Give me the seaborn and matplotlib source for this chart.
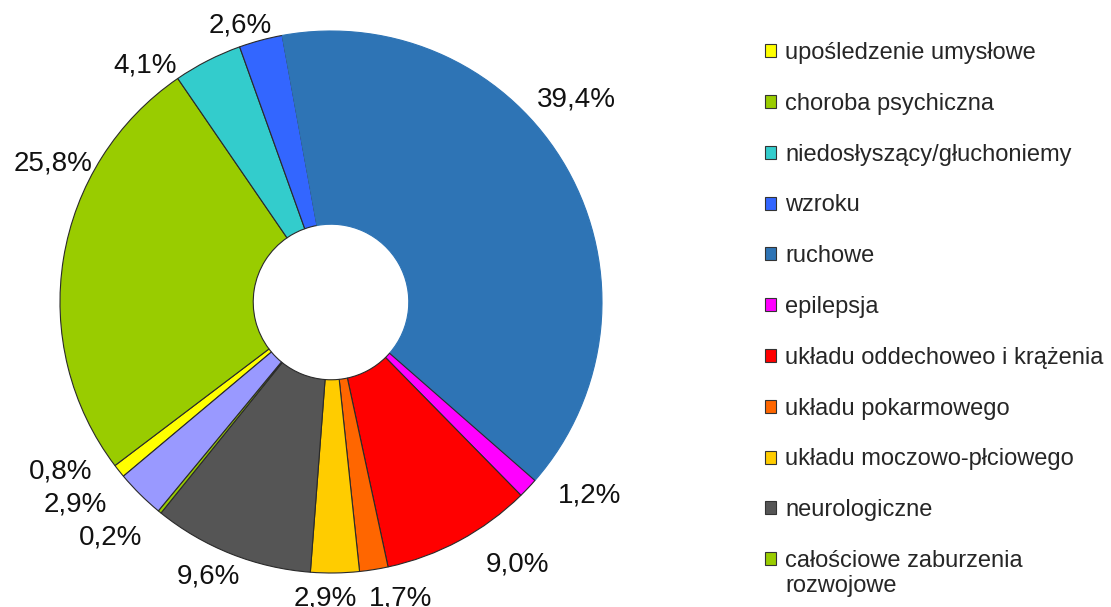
import numpy as np
import matplotlib
matplotlib.use('Agg')
import matplotlib.pyplot as plt
from matplotlib.patches import Patch
import seaborn as sns

# data (clockwise, legend order)
categories = ['upośledzenie umysłowe', 'choroba psychiczna', 'niedosłyszący/głuchoniemy',
              'wzroku', 'ruchowe', 'epilepsja', 'układu oddechoweo i krążenia',
              'układu pokarmowego', 'układu moczowo-płciowego', 'neurologiczne',
              'całościowe zaburzenia\nrozwojowe', 'inne']
shares = [0.8, 25.8, 4.1, 2.6, 39.4, 1.2, 9.0, 1.7, 2.9, 9.6, 0.2, 2.9]
n_legend = 11  # the last category is cut off in the original legend

colors = ['#ffff00', '#99cc00', '#33cccc', '#3366ff', '#2e74b5', '#ff00ff',
          '#ff0000', '#ff6600', '#ffcc00', '#555555', '#99cc00', '#9999ff']
# label placement tweaks as in the original: angular shift (deg) and gap to ring (px)
label_shift = [-7, -17.8, 10.7, 3, 10.3, 7, 7.5, 4.3, -2, -2.7, -4.3, -7.2]
label_gap = [14, 1, 4, 3, 12, 18, 21, 13, 11, 4, 20, 22]

sns.set_style('white')
plt.rcParams['font.family'] = ['Liberation Sans', 'DejaVu Sans']

fig = plt.figure(figsize=(11.11, 6.07), dpi=100)
ax = fig.add_axes([0.02961, 0.01137, 0.53663, 0.98221])

wedges, _ = ax.pie(shares, colors=colors, startangle=220, counterclock=False,
                   wedgeprops=dict(width=0.713, edgecolor='#2a2a2a', linewidth=0.8))
wedges[4].set_edgecolor(colors[4])  # no outline on the big blue slice
ax.set_xlim(-1.1, 1.1)
ax.set_ylim(-1.1, 1.1)
ax.set_aspect('equal')
ax.axis('off')

# percentage labels just outside the ring
texts = []
for v in shares:
    t = ax.text(0, 0, f'{v:.1f}%'.replace('.', ','), fontsize=20, color='#111111',
                ha='center', va='center_baseline')
    texts.append(t)

fig.canvas.draw()
r_px = ax.transData.transform((1, 0))[0] - ax.transData.transform((0, 0))[0]
for w, t, shift, gap in zip(wedges, texts, label_shift, label_gap):
    ang = np.deg2rad((w.theta1 + w.theta2) / 2 + shift)
    bb = t.get_window_extent()
    c, s = np.cos(ang), np.sin(ang)
    d = r_px + gap + bb.width / 2 * abs(c) + 11 * abs(s)
    t.set_position((c * d / r_px, s * d / r_px))

# legend (second line of the last label is set under it, so the box sits on line one)
leg_labels = [lab.split('\n')[0] for lab in categories[:n_legend]]
handles = [Patch(facecolor=colors[i], edgecolor='#333333', linewidth=0.8)
           for i in range(n_legend)]
leg = fig.legend(handles, leg_labels, loc='upper left',
                 bbox_to_anchor=(765 / 1111, 1 - 42 / 607), frameon=False,
                 fontsize=17, handlelength=0.47, handleheight=0.47,
                 handletextpad=0.38, labelspacing=1.22, borderpad=0, borderaxespad=0)
fig.canvas.draw()
last = leg.get_texts()[-1].get_window_extent()
fig.text(last.x0 / fig.bbox.width, (last.y0 - 25) / fig.bbox.height,
         categories[n_legend - 1].split('\n')[1], fontsize=17, va='bottom')

fig.savefig('out.png', dpi=100)
